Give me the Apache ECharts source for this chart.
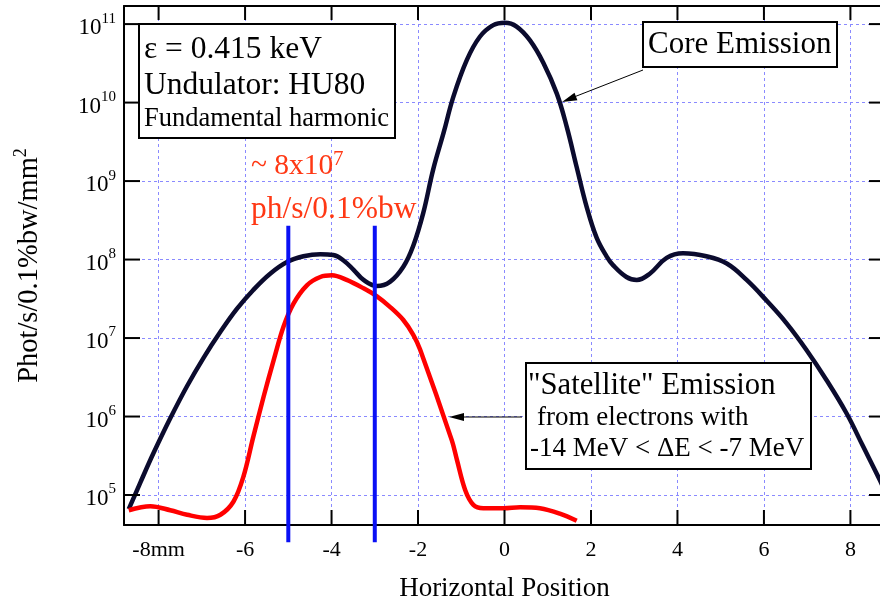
<!DOCTYPE html>
<html>
<head>
<meta charset="utf-8">
<style>
html, body { margin: 0; padding: 0; background: #fff; }
#main { width: 880px; height: 602px; }
</style>
</head>
<body>
<div id="main"></div>
<script src="https://cdn.jsdelivr.net/npm/echarts/dist/echarts.min.js"></script>
<script>
// 横向位置 (mm)
var coreX = [-8.69, -8.42, -8.12, -7.73, -7.34, -6.96, -6.57, -6.19, -5.81, -5.42, -5.03, -4.65, -4.26, -3.96,
    -3.73, -3.49, -3.26, -2.95, -2.65, -2.34, -2.11, -1.88, -1.65, -1.41, -1.18, -0.87, -0.57, -0.26, 0.01,
    0.28, 0.59, 0.90, 1.21, 1.44, 1.67, 1.90, 2.13, 2.36, 2.51, 2.82, 3.06, 3.36, 3.75, 4.13, 4.67, 5.14,
    5.60, 6.06, 6.52, 6.98, 7.45, 7.91, 8.29, 8.68, 8.8];
// Core Emission, phot/s/0.1%bw/mm^2
var coreY = [6.6e4, 1.45e5, 3.4e5, 9.5e5, 2.45e6, 5.6e6, 1.2e7, 2.35e7, 4.1e7, 6.6e7, 9.3e7, 1.1e8, 1.17e8, 1.14e8,
    9.8e7, 7.4e7, 5.5e7, 4.6e7, 5.2e7, 8.1e7, 1.5e8, 3.9e8, 1.4e9, 4.1e9, 1.2e10, 3.5e10, 6.9e10, 9.7e10, 1.04e11,
    9.3e10, 6.2e10, 3.2e10, 1.3e10, 4.9e9, 1.5e9, 4.7e8, 1.9e8, 1.1e8, 8.5e7, 6.0e7, 5.5e7, 6.6e7, 1.05e8, 1.2e8, 1.1e8, 8.9e7,
    5.5e7, 3.0e7, 1.55e7, 7.1e6, 2.9e6, 1.1e6, 4.2e5, 1.55e5, 1.1e5];

// "Satellite" Emission
var satX = [-8.69, -8.19, -7.73, -7.34, -6.88, -6.57, -6.27, -6.04, -5.81, -5.57, -5.34, -5.11, -4.88, -4.57,
    -4.26, -3.99, -3.65, -3.26, -2.95, -2.65, -2.34, -2.11, -1.95, -1.22, -1.10, -0.91, -0.72, -0.49, -0.02,
    0.36, 0.82, 1.28, 1.67];
var satY = [6.4e4, 7.2e4, 6.4e4, 5.6e4, 5.1e4, 5.6e4, 8.2e4, 1.7e5, 5.5e5, 1.8e6, 5.2e6, 1.4e7, 2.75e7, 4.7e7,
    6.0e7, 6.3e7, 5.5e7, 4.3e7, 3.4e7, 2.5e7, 1.7e7, 1.1e7, 7.1e6, 5.0e5, 2.8e5, 1.16e5, 7.5e4, 6.8e4, 6.8e4,
    7.0e4, 6.8e4, 5.8e4, 4.7e4];

// 两条蓝色竖线
var markX = [-5, -3];
var markTop = 2.7e8;
var markBottom = 2.5e4;

// 坐标范围与刻度
var xMin = -8.8, xMax = 8.8;
var yMin = 4.15e4, yMax = 1.7e11;
var xTickVals = [-8, -6, -4, -2, 0, 2, 4, 6, 8];
var yTickVals = [1e5, 1e6, 1e7, 1e8, 1e9, 1e10, 1e11];

var serif = "'Liberation Serif', 'Times New Roman', serif";
var gridColor = '#8a8aff';

function toPairs(xs, ys) {
    var out = [];
    for (var i = 0; i < xs.length; i++) out.push([xs[i], ys[i]]);
    return out;
}

var series = [
    {
        name: 'core', type: 'line', data: toPairs(coreX, coreY),
        showSymbol: false, smooth: 0.4,
        lineStyle: { color: '#0b0b2e', width: 4.5 }, z: 3
    },
    {
        name: 'satellite', type: 'line', data: toPairs(satX, satY),
        showSymbol: false, smooth: 0.35,
        lineStyle: { color: '#ff0000', width: 4.5 }, z: 3
    }
];
for (var i = 0; i < markX.length; i++) {
    series.push({
        type: 'line', data: [[markX[i], markTop], [markX[i], markBottom]],
        showSymbol: false, clip: false,
        lineStyle: { color: '#0a10f5', width: 4 }, z: 4
    });
}

function axisLine() {
    return { show: true, onZero: false, lineStyle: { color: '#000', width: 2 } };
}

var annotations = [
    // 参数说明框
    { type: 'rect', z: 100, shape: { x: 139, y: 24, width: 256, height: 114 },
      style: { fill: '#fff', stroke: '#000', lineWidth: 2 } },
    { type: 'text', z: 101, x: 144, y: 50,
      style: { text: 'ε = 0.415 keV', font: '31.5px ' + serif, fill: '#000', verticalAlign: 'middle' } },
    { type: 'text', z: 101, x: 144, y: 86,
      style: { text: 'Undulator: HU80', font: '31.5px ' + serif, fill: '#000', verticalAlign: 'middle' } },
    { type: 'text', z: 101, x: 144, y: 119,
      style: { text: 'Fundamental harmonic', font: '26.5px ' + serif, fill: '#000', verticalAlign: 'middle' } },

    // Core Emission 标注
    { type: 'rect', z: 100, shape: { x: 643, y: 22, width: 194, height: 45 },
      style: { fill: '#fff', stroke: '#000', lineWidth: 2 } },
    { type: 'text', z: 101, x: 648, y: 45,
      style: { text: 'Core Emission', font: '31px ' + serif, fill: '#000', verticalAlign: 'middle' } },
    { type: 'line', z: 100, shape: { x1: 643, y1: 70, x2: 574, y2: 97 },
      style: { stroke: '#000', lineWidth: 1 } },
    { type: 'polygon', z: 100, shape: { points: [[562, 102], [577.4, 100.2], [574.5, 92.8]] },
      style: { fill: '#000' } },

    // Satellite 标注
    { type: 'rect', z: 100, shape: { x: 526, y: 363, width: 285, height: 106 },
      style: { fill: '#fff', stroke: '#000', lineWidth: 2 } },
    { type: 'text', z: 101, x: 528, y: 386,
      style: { text: '"Satellite" Emission', font: '30.7px ' + serif, fill: '#000', verticalAlign: 'middle' } },
    { type: 'text', z: 101, x: 537, y: 418,
      style: { text: 'from electrons with', font: '27px ' + serif, fill: '#000', verticalAlign: 'middle' } },
    { type: 'text', z: 101, x: 530, y: 449,
      style: { text: '-14 MeV < ΔE < -7 MeV', font: '27px ' + serif, fill: '#000', verticalAlign: 'middle' } },
    { type: 'line', z: 100, shape: { x1: 522, y1: 417, x2: 462, y2: 417 },
      style: { stroke: '#000', lineWidth: 1 } },
    { type: 'polygon', z: 100, shape: { points: [[449, 417], [464, 413], [464, 421]] },
      style: { fill: '#000' } },

    // 红色数值标注
    { type: 'text', z: 101, x: 251, y: 166,
      style: { text: '~ 8x10', font: '29.5px ' + serif, fill: '#ff3814', verticalAlign: 'middle' } },
    { type: 'text', z: 101, x: 333, y: 159,
      style: { text: '7', font: '21px ' + serif, fill: '#ff3814', verticalAlign: 'middle' } },
    { type: 'text', z: 101, x: 251, y: 210,
      style: { text: 'ph/s/0.1%bw', font: '31.5px ' + serif, fill: '#ff3814', verticalAlign: 'middle' } }
];

var myChart = echarts.init(document.getElementById('main'));

myChart.setOption({
    backgroundColor: '#fff',
    animation: false,
    grid: { left: 124, right: -5, top: 6, bottom: 77, containLabel: false, outerBoundsMode: 'none' },
    xAxis: [
        {
            type: 'value', min: xMin, max: xMax, splitNumber: 9,
            name: 'Horizontal Position', nameLocation: 'middle', nameGap: 50,
            nameTextStyle: { fontFamily: serif, fontSize: 27, color: '#000' },
            axisLine: axisLine(),
            axisTick: { show: false },
            axisLabel: {
                fontFamily: serif, fontSize: 22, color: '#000', margin: 14,
                showMinLabel: false, showMaxLabel: false,
                formatter: function (v) { return v === -8 ? '-8mm' : String(v); }
            },
            splitLine: { show: true, lineStyle: { color: gridColor, width: 1, type: [3, 3] } }
        },
        {
            type: 'value', position: 'top', min: xMin, max: xMax, splitNumber: 9,
            axisLine: axisLine(), axisTick: { show: false },
            axisLabel: { show: false }, splitLine: { show: false }
        }
    ],
    yAxis: [
        {
            type: 'log', logBase: 10, min: yMin, max: yMax,
            name: '{a|Phot/s/0.1%bw/mm}{s|2}', nameLocation: 'middle', nameGap: 76,
            nameTextStyle: {
                color: '#000',
                rich: {
                    a: { fontFamily: serif, fontSize: 28.5, lineHeight: 36, color: '#000' },
                    s: { fontFamily: serif, fontSize: 18, verticalAlign: 'top', color: '#000' }
                }
            },
            axisLine: axisLine(),
            axisTick: { show: false },
            minorTick: { show: false },
            axisLabel: {
                margin: 8, showMinLabel: false, showMaxLabel: false,
                padding: [8, 0, 0, 0],
                formatter: function (v) {
                    var n = Math.round(Math.log(v) / Math.LN10);
                    return '{b|10}{e|' + n + '}';
                },
                rich: {
                    b: { fontFamily: serif, fontSize: 23, lineHeight: 34, color: '#000' },
                    e: { fontFamily: serif, fontSize: 15, verticalAlign: 'top', color: '#000' }
                }
            },
            splitLine: { show: true, lineStyle: { color: gridColor, width: 1, type: [3, 3] } }
        },
        {
            type: 'log', logBase: 10, min: yMin, max: yMax, position: 'right',
            axisLine: axisLine(), axisTick: { show: false }, minorTick: { show: false },
            axisLabel: { show: false }, splitLine: { show: false }
        }
    ],
    series: series
});

// 四边的内向刻度: 位置由坐标轴换算
var plotLeft = myChart.convertToPixel({ xAxisIndex: 0 }, xMin);
var plotRight = myChart.convertToPixel({ xAxisIndex: 0 }, xMax);
var plotTop = myChart.convertToPixel({ yAxisIndex: 0 }, yMax);
var plotBottom = myChart.convertToPixel({ yAxisIndex: 0 }, yMin);

function tickLine(x1, y1, x2, y2) {
    return { type: 'line', z: 50, shape: { x1: x1, y1: y1, x2: x2, y2: y2 },
             style: { stroke: '#000', lineWidth: 2 } };
}
var tickMarks = [];
xTickVals.forEach(function (v) {
    var px = myChart.convertToPixel({ xAxisIndex: 0 }, v);
    tickMarks.push(tickLine(px, plotBottom, px, plotBottom - 15));
    tickMarks.push(tickLine(px, plotTop, px, plotTop + 14));
});
yTickVals.forEach(function (v) {
    var py = myChart.convertToPixel({ yAxisIndex: 0 }, v);
    tickMarks.push(tickLine(plotLeft, py, plotLeft + 16, py));
    tickMarks.push(tickLine(plotRight, py, plotRight - 16, py));
});

myChart.setOption({ graphic: tickMarks.concat(annotations) });
</script>
</body>
</html>
